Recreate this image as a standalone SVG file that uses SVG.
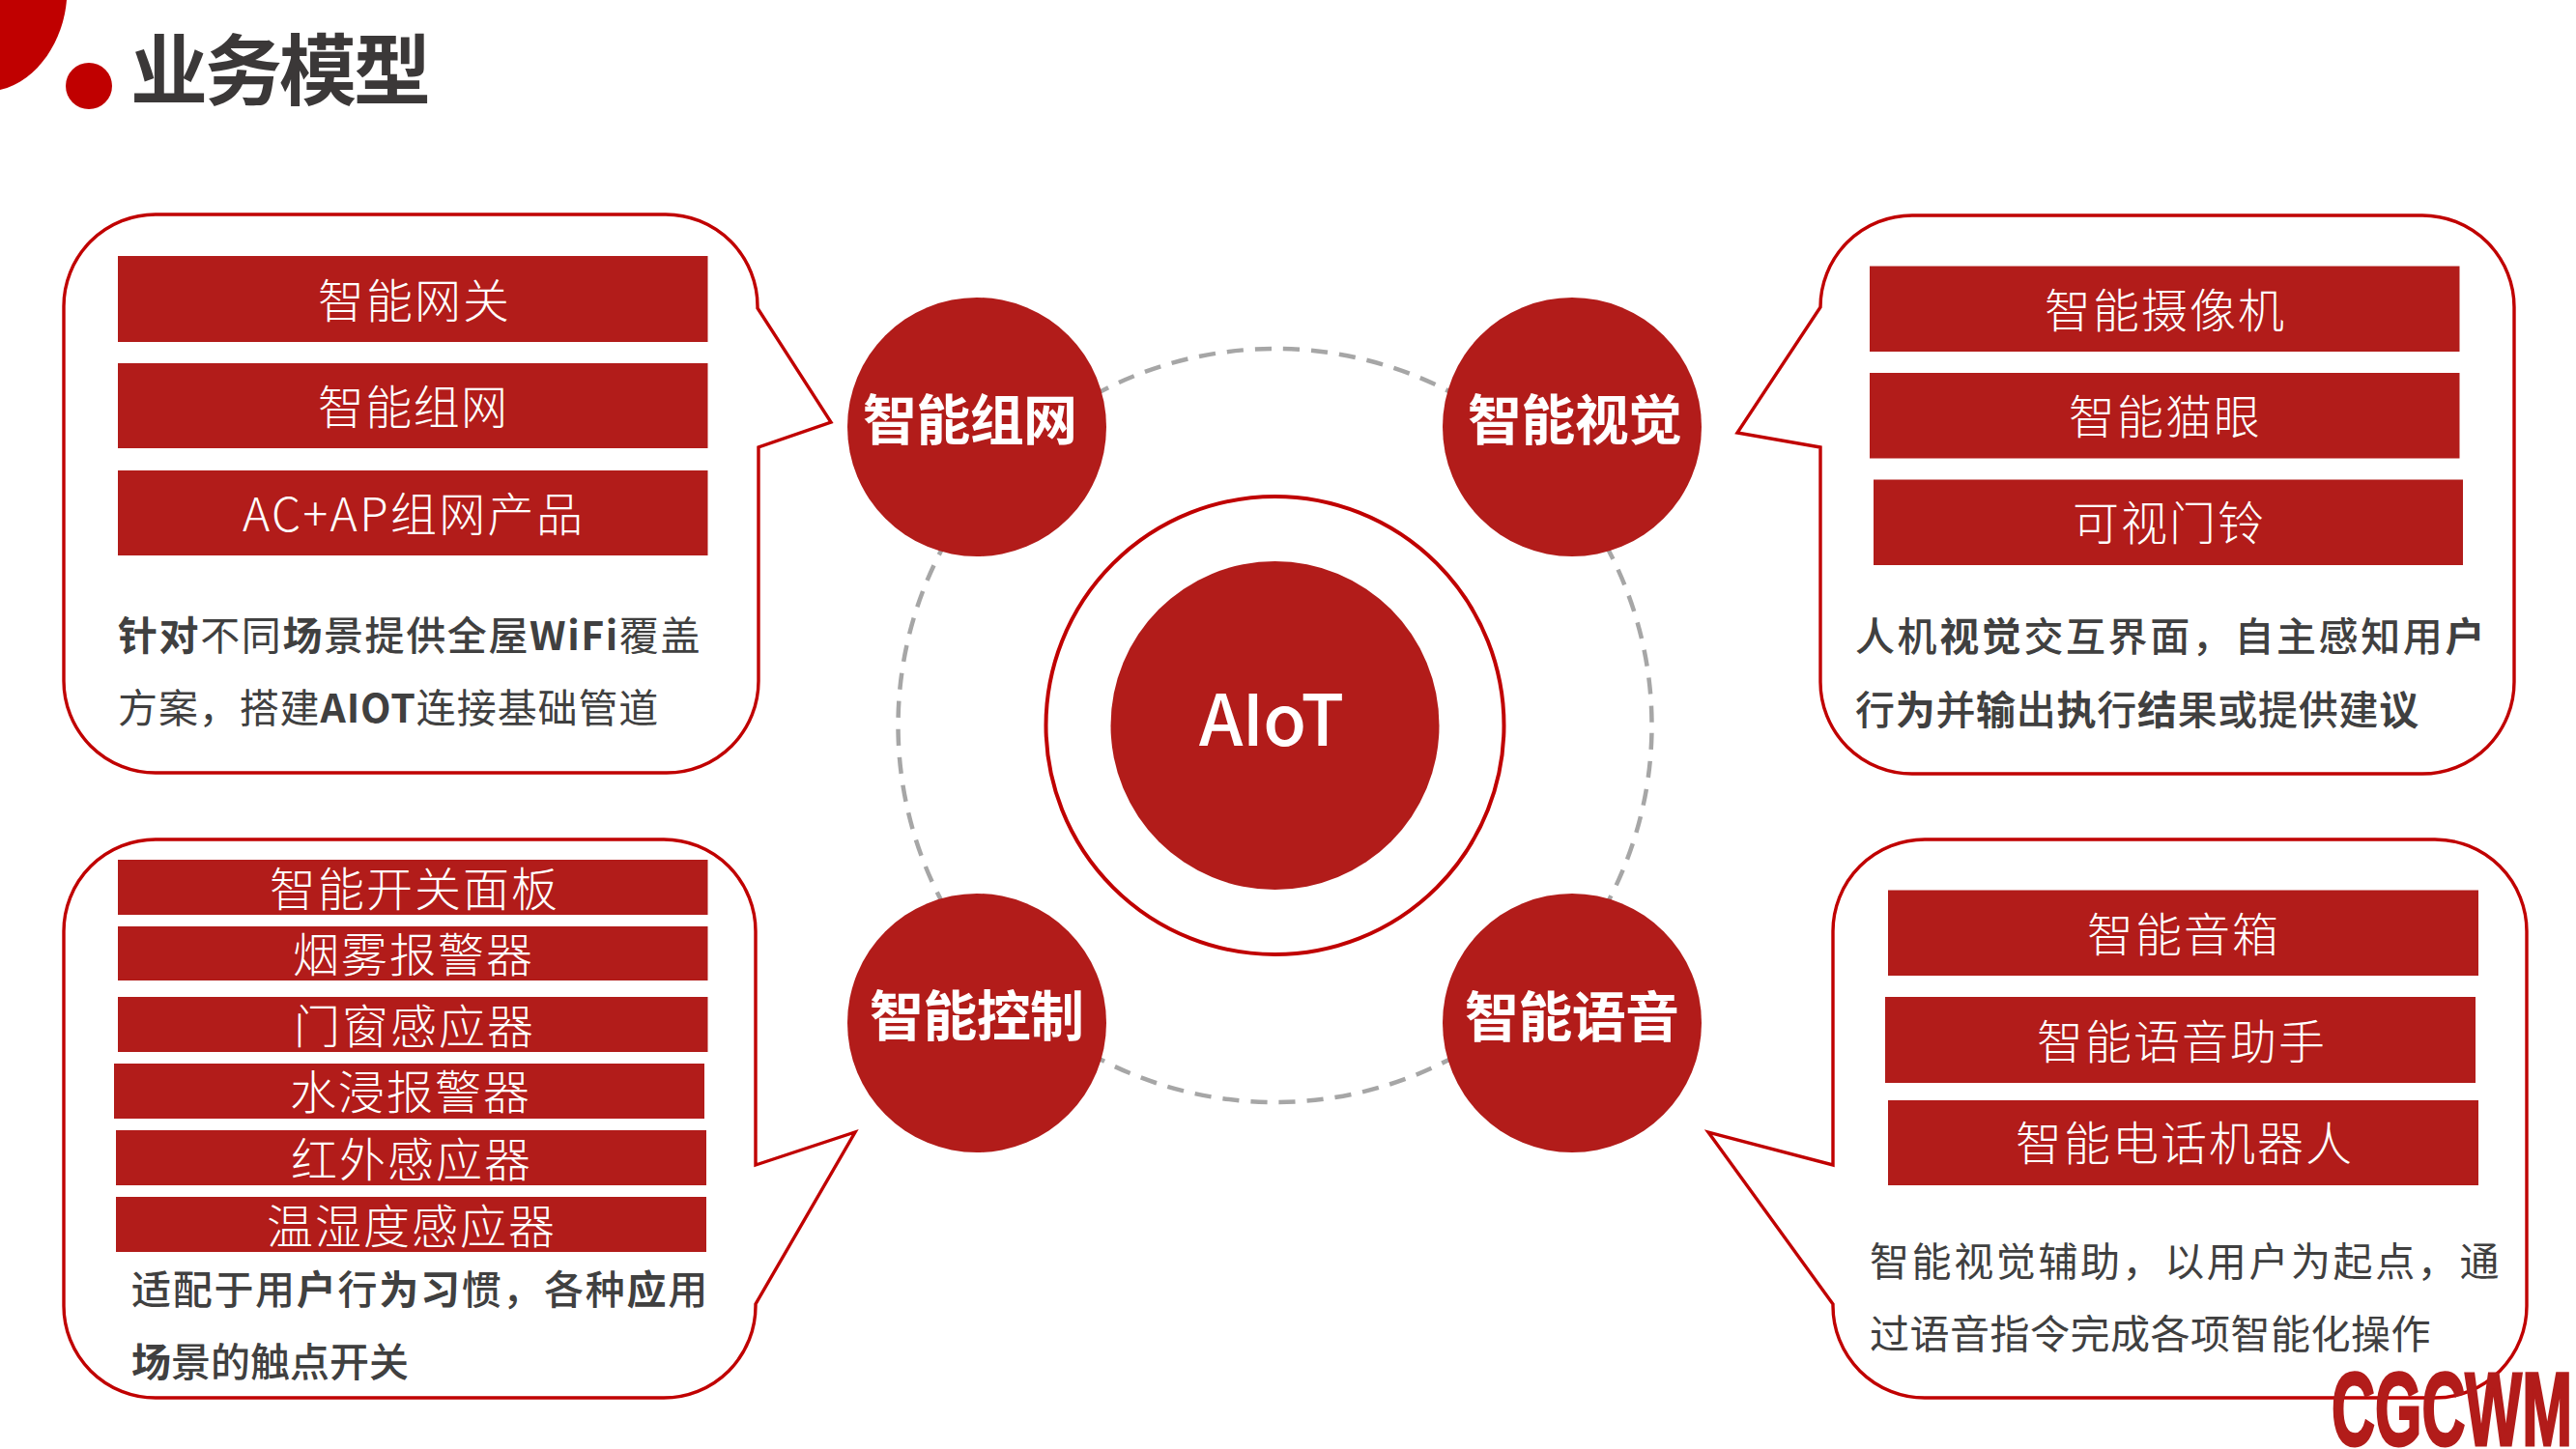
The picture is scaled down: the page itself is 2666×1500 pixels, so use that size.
<svg xmlns="http://www.w3.org/2000/svg" width="2666" height="1500" viewBox="0 0 2666 1500">
<style>
text{font-family:"Noto Sans CJK SC","Noto Sans",sans-serif}
.callout{fill:#fff;stroke:#c00000;stroke-width:3.4}
.bar{fill:#b21c1a}
.bt{fill:#fff;font-size:48px;font-weight:300;text-anchor:middle}
.disc{fill:#b21c1a}
.dt{fill:#fff;font-size:56px;font-weight:700;text-anchor:middle}
.body{fill:#404040;font-size:41px;font-weight:500}
.r{font-weight:400}
.b{font-weight:700}
</style>
<rect width="2666" height="1500" fill="#fff"/>
<g id="title">
<path d="M0 0H69C66 40 40 84 0 93Z" fill="#c00000"/>
<circle cx="92" cy="89" r="24" fill="#c00000"/>
<text x="135" y="102" font-size="80" font-weight="700" fill="#3b3838" textLength="311">业务模型</text>
</g>
<g id="connectors">
<circle cx="1319.5" cy="751" r="390" fill="none" stroke="#a6a6a6" stroke-width="4.5" stroke-dasharray="17.2 11.97" stroke-dashoffset="-7.8"/>
</g>
<g id="node-aiot">
<circle cx="1319.5" cy="751" r="237" fill="#fff" stroke="#c00000" stroke-width="4"/>
<circle class="disc" cx="1319.5" cy="751" r="170"/>
<text x="1316" y="772" font-size="73" font-weight="500" fill="#fff" text-anchor="middle" textLength="150">AIoT</text>
</g>
<g id="node-zuwang"><circle class="disc" cx="1011" cy="442" r="134"/><text class="dt" x="1004" y="455" textLength="222">智能组网</text></g>
<g id="node-shijue"><circle class="disc" cx="1627" cy="442" r="134"/><text class="dt" x="1630" y="455" textLength="222">智能视觉</text></g>
<g id="node-kongzhi"><circle class="disc" cx="1011" cy="1059" r="134"/><text class="dt" x="1011" y="1072" textLength="222">智能控制</text></g>
<g id="node-yuyin"><circle class="disc" cx="1627" cy="1059" r="134"/><text class="dt" x="1627" y="1073" textLength="222">智能语音</text></g>

<g id="callout-zuwang">
<path class="callout" d="M161 222H689A95 95 0 0 1 784 317V319L860 437L785 463V705A95 95 0 0 1 690 800H161A95 95 0 0 1 66 705V317A95 95 0 0 1 161 222Z"/>
<rect class="bar" x="122" y="265" width="610.500" height="89"/>
<rect class="bar" x="122" y="376" width="610.500" height="88"/>
<rect class="bar" x="122" y="487" width="610.500" height="88"/>
<text class="bt" x="428" y="329" textLength="198">智能网关</text>
<text class="bt" x="427" y="439" textLength="196">智能组网</text>
<text class="bt" x="427" y="550" textLength="352">AC+AP组网产品</text>
<text class="body" x="122" y="673" letter-spacing="1.6"><tspan class="b">针对</tspan><tspan class="r">不同</tspan><tspan class="b">场</tspan>景提供全屋<tspan class="b">WiFi</tspan><tspan class="r">覆盖</tspan></text>
<text class="body r" x="122" y="748" letter-spacing="0.9"><tspan class="r">方案，搭建</tspan><tspan class="b">AIOT</tspan><tspan class="r">连接基础管道</tspan></text>
</g>

<g id="callout-kongzhi">
<path class="callout" d="M161 869H687A95 95 0 0 1 782 964V1206L885 1172L782 1350V1352A95 95 0 0 1 687 1447H161A95 95 0 0 1 66 1352V964A95 95 0 0 1 161 869Z"/>
<rect class="bar" x="122" y="890" width="610.500" height="57"/>
<rect class="bar" x="122" y="959" width="610.500" height="56"/>
<rect class="bar" x="122" y="1032" width="610.500" height="57"/>
<rect class="bar" x="118" y="1101" width="611" height="57"/>
<rect class="bar" x="120" y="1170" width="611" height="57"/>
<rect class="bar" x="120" y="1239" width="611" height="57"/>
<text class="bt" x="428" y="938" textLength="298">智能开关面板</text>
<text class="bt" x="427" y="1006" textLength="248">烟雾报警器</text>
<text class="bt" x="428" y="1080" textLength="248">门窗感应器</text>
<text class="bt" x="424" y="1148" textLength="248">水浸报警器</text>
<text class="bt" x="425" y="1218" textLength="248">红外感应器</text>
<text class="bt" x="425" y="1287" textLength="298">温湿度感应器</text>
<text class="body" x="136" y="1350" letter-spacing="1.7">适配于用<tspan class="b">户</tspan>行<tspan class="b">为习</tspan>惯，各种<tspan class="b">应</tspan>用</text>
<text class="body" x="136" y="1425" letter-spacing="0"><tspan class="b">场</tspan>景的触点开关</text>
</g>

<g id="callout-shijue">
<path class="callout" d="M1979 223H2507A95 95 0 0 1 2602 318V706A95 95 0 0 1 2507 801H1979A95 95 0 0 1 1884 706V463L1798 448L1884 318A95 95 0 0 1 1979 223Z"/>
<rect class="bar" x="1935" y="275.500" width="610.500" height="88.500"/>
<rect class="bar" x="1935" y="386" width="610.500" height="88.500"/>
<rect class="bar" x="1939" y="496.500" width="610" height="88.500"/>
<text class="bt" x="2240" y="339" textLength="248">智能摄像机</text>
<text class="bt" x="2240" y="449" textLength="198">智能猫眼</text>
<text class="bt" x="2244" y="559" textLength="198">可视门铃</text>
<text class="body" x="1920" y="674" letter-spacing="2.6">人机<tspan class="b">视觉</tspan>交互界面，自主感知用<tspan class="b">户</tspan></text>
<text class="body" x="1920" y="750" letter-spacing="0.7">行<tspan class="b">为</tspan>并<tspan class="b">输</tspan>出<tspan class="b">执</tspan>行<tspan class="b">结</tspan>果或提供建<tspan class="b">议</tspan></text>
</g>

<g id="callout-yuyin">
<path class="callout" d="M1992 869H2520A95 95 0 0 1 2615 964V1352A95 95 0 0 1 2520 1447H1992A95 95 0 0 1 1897 1352V1350L1768 1172L1897 1206V964A95 95 0 0 1 1992 869Z"/>
<rect class="bar" x="1954" y="921.500" width="611" height="88.500"/>
<rect class="bar" x="1951" y="1032" width="611" height="89"/>
<rect class="bar" x="1954" y="1139" width="611" height="88"/>
<text class="bt" x="2259" y="985" textLength="198">智能音箱</text>
<text class="bt" x="2257" y="1096" textLength="298">智能语音助手</text>
<text class="bt" x="2260" y="1201" textLength="348">智能电话机器人</text>
<text class="body r" x="1935" y="1321" letter-spacing="2.6">智能视觉辅助，以用户为起点，通</text>
<text class="body r" x="1935" y="1396" letter-spacing="0.5">过语音指令完成各项智能化操作</text>
</g>

<g id="logo">
<text x="2413" y="1496" font-size="108" font-weight="700" fill="#b21c1a" stroke="#b21c1a" stroke-width="3" style="font-family:'Liberation Sans',sans-serif" textLength="249" lengthAdjust="spacingAndGlyphs">CGCWM</text>
</g>
</svg>
